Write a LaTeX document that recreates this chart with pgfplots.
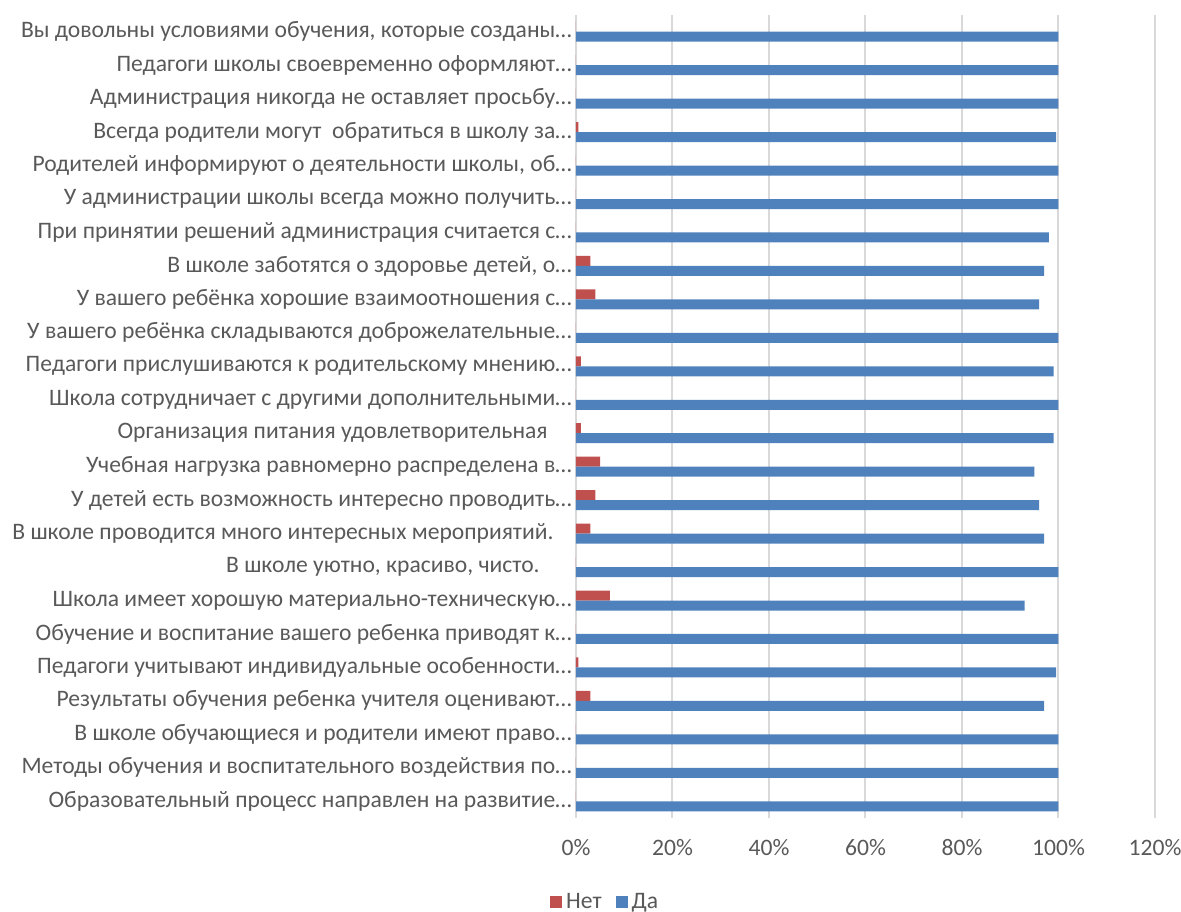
\documentclass[border=0pt]{standalone}
\usepackage{fontspec}
\setmainfont{Carlito}
\usepackage{pgfplots}
\pgfplotsset{compat=1.18}
\definecolor{netred}{HTML}{C0504D}
\definecolor{dablue}{HTML}{4F81BD}
\definecolor{txtgray}{HTML}{595959}
\definecolor{gridgray}{HTML}{D9D9D9}

\begin{document}
\begin{tikzpicture}
\useasboundingbox (-288bp,-47bp) rectangle (302.5bp,409bp);
\begin{axis}[
  at={(0,0)}, anchor=south west,
  scale only axis, width=289.5bp, height=401.5bp,
  xbar, bar width=5bp,
  xmin=0, xmax=120, ymin=-0.5, ymax=23.5,
  axis line style={draw=none},
  xmajorgrids, grid style={gridgray, line width=1bp},
  major tick length=0pt,
  xtick={0,20,...,120},
  xticklabels={0\%,20\%,40\%,60\%,80\%,100\%,120\%},
  ytick={0,...,23},
  yticklabels={
    {Образовательный процесс направлен на развитие…},
    {Методы обучения и воспитательного воздействия по…},
    {В школе обучающиеся и родители имеют право…},
    {Результаты обучения ребенка учителя оценивают…},
    {Педагоги учитывают индивидуальные особенности…},
    {Обучение и воспитание вашего ребенка приводят к…},
    {Школа имеет хорошую материально-техническую…},
    {В школе уютно, красиво, чисто.\kern16bp},
    {В школе проводится много интересных мероприятий.\kern9bp},
    {У детей есть возможность интересно проводить…},
    {Учебная нагрузка равномерно распределена в…},
    {Организация питания удовлетворительная\kern12bp},
    {Школа сотрудничает с другими дополнительными…},
    {Педагоги прислушиваются к родительскому мнению…},
    {У вашего ребёнка складываются доброжелательные…},
    {У вашего ребёнка хорошие взаимоотношения с…},
    {В школе заботятся о здоровье детей, о…},
    {При принятии решений администрация считается с…},
    {У администрации школы всегда можно получить…},
    {Родителей информируют о деятельности школы, об…},
    {Всегда родители могут\ \ обратиться в школу за…},
    {Администрация никогда не оставляет просьбу…},
    {Педагоги школы своевременно оформляют…},
    {Вы довольны условиями обучения, которые созданы…}},
  tick label style={font=\fontsize{11.8bp}{14bp}\selectfont, text=txtgray},
  yticklabel style={anchor=east, inner sep=0pt, xshift=-2bp},
  xticklabel style={yshift=-7bp},
  legend style={at={(0.052,-0.105)}, anchor=center, draw=none,
    font=\fontsize{11.8bp}{14bp}\selectfont, text=txtgray,
    /tikz/every even column/.append style={column sep=5bp}},
  legend columns=2,
  legend image code/.code={\fill[#1] (0bp,-3bp) rectangle (6bp,3bp);},
]
% Нет
\addplot[fill=netred, draw=none, bar shift=2.5bp] coordinates {
  (0,0) (0,1) (0,2) (3,3) (0.5,4) (0,5) (7,6) (0,7) (3,8) (4,9) (5,10) (1,11)
  (0,12) (1,13) (0,14) (4,15) (3,16) (0,17) (0,18) (0,19) (0.5,20) (0,21) (0,22) (0,23)
};
% Да
\addplot[fill=dablue, draw=none, bar shift=-2.5bp] coordinates {
  (100,0) (100,1) (100,2) (97,3) (99.5,4) (100,5) (93,6) (100,7) (97,8) (96,9) (95,10) (99,11)
  (100,12) (99,13) (100,14) (96,15) (97,16) (98,17) (100,18) (100,19) (99.5,20) (100,21) (100,22) (100,23)
};
\legend{Нет, Да}
\end{axis}
\end{tikzpicture}
\end{document}
